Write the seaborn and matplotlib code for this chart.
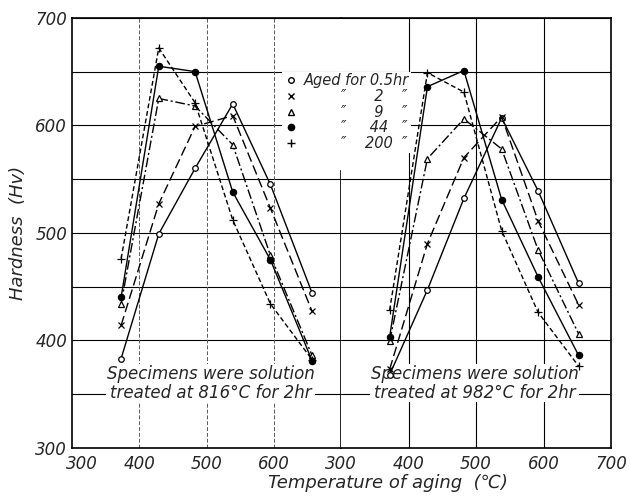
import matplotlib
matplotlib.use("Agg")
import matplotlib.pyplot as plt
from matplotlib.lines import Line2D
import matplotlib.transforms as mtransforms
import seaborn as sns
import pandas as pd

# ---- data ----
series_labels = ["0.5", "2", "9", "44", "200"]
temps_left = [373, 429, 483, 539, 595, 657]
temps_right = [372, 428, 482, 538, 592, 652]

left_05 = [383, 499, 560, 620, 545, 444]
left_2 = [414, 527, 599, 609, 523, 427]
left_9 = [434, 625, 618, 582, 479, 386]
left_44 = [440, 655, 650, 538, 475, 381]
left_200 = [476, 672, 621, 512, 434, 382]

right_05 = [368, 447, 532, 607, 539, 453]
right_2 = [373, 490, 570, 608, 511, 433]
right_9 = [399, 569, 606, 578, 484, 406]
right_44 = [403, 636, 651, 531, 459, 386]
right_200 = [428, 649, 631, 502, 426, 376]

left_note = "Specimens were solution\ntreated at 816°C for 2hr"
right_note = "Specimens were solution\ntreated at 982°C for 2hr"
x_ticks_left = [300, 400, 500, 600]
x_ticks_right = [300, 400, 500, 600, 700]
y_ticks = [300, 400, 500, 600, 700]

# ---- styles ----
styles = {
    "0.5": dict(marker="o", mfc="white", ls="-", ms=4),
    "2": dict(marker="x", mfc="black", ls=(0, (7, 3)), ms=4),
    "9": dict(marker="^", mfc="white", ls=(0, (7, 2, 1.5, 2)), ms=4.5),
    "44": dict(marker="o", mfc="black", ls="-", ms=4.5),
    "200": dict(marker="+", mfc="black", ls=(0, (3.5, 2)), ms=6),
}

sns.set_style("white")
plt.rcParams["font.family"] = ["DejaVu Sans"]
plt.rcParams["font.style"] = "italic"

fig = plt.figure(figsize=(6.3, 4.96), dpi=100)
ax1 = fig.add_axes([0.1143, 0.097, 0.4270, 0.867])
ax2 = fig.add_axes([0.5413, 0.097, 0.4286, 0.867], sharey=ax1)

left_vals = [left_05, left_2, left_9, left_44, left_200]
right_vals = [right_05, right_2, right_9, right_44, right_200]

for ax, temps, vals in [(ax1, temps_left, left_vals), (ax2, temps_right, right_vals)]:
    for lab, v in zip(series_labels, vals):
        st = styles[lab]
        df = pd.DataFrame({"T": temps, "H": v})
        sns.lineplot(data=df, x="T", y="H", ax=ax, color="black", sort=False,
                     linewidth=1.0, linestyle=st["ls"], marker=st["marker"],
                     markersize=st["ms"], markerfacecolor=st["mfc"],
                     markeredgecolor="black", markeredgewidth=0.9, zorder=3)
    ax.set_xlim(300, 700)
    ax.set_ylim(300, 700)
    ax.set_xlabel("")
    ax.set_ylabel("")
    ax.set_yticks(y_ticks)
    ax.set_yticks([350, 450, 550, 650], minor=True)
    ax.grid(True, which="both", axis="y", color="black", lw=0.8)
    ax.tick_params(length=0, which="both", labelsize=12)
    ax.tick_params(axis="x", pad=5)
    for s in ax.spines.values():
        s.set_color("black")
        s.set_linewidth(1.2)

ax1.set_xticks(x_ticks_left)
ax2.set_xticks(x_ticks_right)
# shift first x tick label right like the reference
lbl0 = ax1.get_xticklabels()[0]
lbl0.set_transform(lbl0.get_transform() + mtransforms.ScaledTranslation(10 / 100, 0, fig.dpi_scale_trans))

for x in [400, 500, 600]:
    ax1.axvline(x, color="0.35", lw=0.7, ls=(0, (4, 2)), zorder=0.6)
    ax2.axvline(x, color="black", lw=0.8, zorder=0.6)
ax1.spines["right"].set_bounds(300, 558)
ax2.spines["left"].set_visible(False)
ax2.tick_params(labelleft=False)

ax1.set_ylabel("Hardness  (Hv)", fontsize=13, labelpad=6)
fig.text(0.615, 0.026, "Temperature of aging  (℃)", fontsize=13, ha="center", va="center")

bbox = dict(facecolor="white", edgecolor="none", pad=0.5)
ax1.text(506, 360, left_note, ha="center", va="center", fontsize=12, bbox=bbox,
         linespacing=1.05, zorder=1)
ax2.text(498, 360, right_note, ha="center", va="center", fontsize=12, bbox=bbox,
         linespacing=1.05, zorder=1)

handles = [Line2D([], [], color="black", ls="none", marker=styles[l]["marker"],
                  mfc=styles[l]["mfc"], mec="black", ms=styles[l]["ms"])
           for l in series_labels]
fs = "\u2007"
d = "″"
legend_labels = ["Aged for 0.5hr",
                 fs * 4 + d + fs * 3 + "2" + fs * 2 + d,
                 fs * 4 + d + fs * 3 + "9" + fs * 2 + d,
                 fs * 4 + d + fs * 2 + " 44" + fs + " " + d,
                 fs * 4 + d + fs * 2 + "200" + fs + d]
fig.legend(handles, legend_labels, loc="upper left", bbox_to_anchor=(0.436, 0.870),
           bbox_transform=fig.transFigure, frameon=True, facecolor="white",
           edgecolor="none", framealpha=1, fancybox=False, fontsize=10.5,
           labelspacing=0.05, handletextpad=0.4, handlelength=1.0,
           borderpad=0.1)

fig.savefig("out.png", dpi=100)
